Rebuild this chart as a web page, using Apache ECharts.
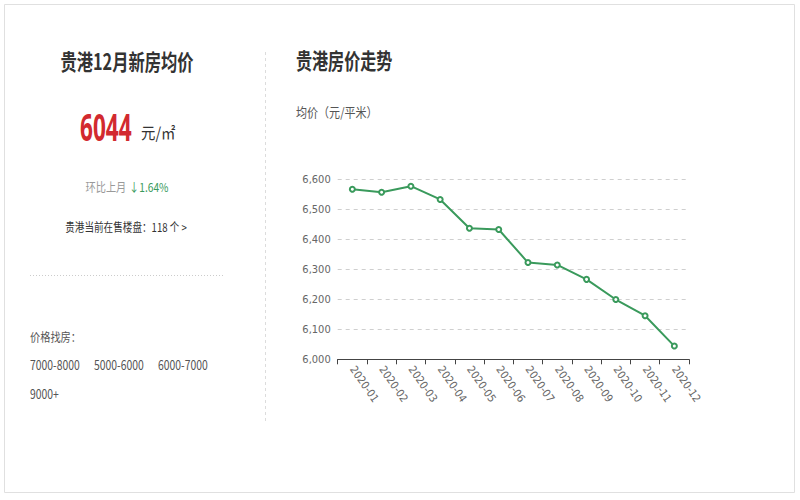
<!DOCTYPE html>
<html>
<head>
<meta charset="utf-8">
<script src="https://cdn.jsdelivr.net/npm/echarts@6/dist/echarts.min.js"></script>
<style>
html,body{margin:0;padding:0;background:#fff;}
#main{width:800px;height:500px;}
</style>
</head>
<body>
<div id="main"></div>
<script>
// ---- data ----
const months = ['2020-01','2020-02','2020-03','2020-04','2020-05','2020-06','2020-07','2020-08','2020-09','2020-10','2020-11','2020-12'];
const prices = [6566, 6556, 6576, 6532, 6436, 6432, 6322, 6314, 6266, 6199, 6145, 6044];
const yMin = 6000, yMax = 6600, yStep = 100;
const priceRanges = ['7000-8000', '5000-6000', '6000-7000', '9000+'];
const leftTitle = '贵港12月新房均价';
const rightTitle = '贵港房价走势';
const unitLabel = '均价（元/平米）';
const currentPrice = '6044';
const priceUnit = '元/㎡';
const changeLabel = '环比上月';
const changeValue = '↓1.64%';
const onSaleText = '贵港当前在售楼盘：118 个 >';
const findLabel = '价格找房：';

const CJK = '"Noto Sans CJK SC", "Noto Sans", sans-serif';
const NARROW = '"Liberation Sans Narrow", "DejaVu Sans Condensed", "Noto Sans CJK SC", sans-serif';
const green = '#3a9a5c';

const chart = echarts.init(document.getElementById('main'), null, {renderer: 'svg'});

function txt(x, y, text, size, color, opts) {
  opts = opts || {};
  return {
    type: 'text', x: x, y: y, scaleX: opts.scaleX || 1, z: 10,
    style: {
      text: text, fill: color,
      font: (opts.bold ? 'bold ' : '') + size + 'px ' + (opts.family || CJK),
      textAlign: opts.align || 'left', textVerticalAlign: 'middle'
    }
  };
}

const graphics = [
  {type: 'rect', shape: {x: 4.5, y: 4.5, width: 790, height: 488}, style: {fill: 'none', stroke: '#e0e0e0', lineWidth: 1}},
  {type: 'line', shape: {x1: 265.5, y1: 52, x2: 265.5, y2: 422}, style: {stroke: '#dcdcdc', lineWidth: 1, lineDash: [3, 3]}},
  {type: 'line', shape: {x1: 30, y1: 275.5, x2: 224, y2: 275.5}, style: {stroke: '#cccccc', lineWidth: 1, lineDash: [1, 2]}},
  txt(127, 61, leftTitle, 22, '#333', {bold: true, align: 'center', scaleX: 0.74}),
  txt(80, 127, currentPrice, 37, '#d22a2f', {bold: true, scaleX: 0.61, family: '"Noto Sans", sans-serif'}),
  txt(141, 132, priceUnit, 16, '#333', {scaleX: 0.9}),
  {
    type: 'text', x: 127, y: 187, scaleX: 0.85, z: 10,
    style: {
      text: '{a|' + changeLabel + '} {b|' + changeValue + '}',
      textAlign: 'center', textVerticalAlign: 'middle',
      rich: {
        a: {fill: '#999', fontSize: 12, fontFamily: CJK},
        b: {fill: green, fontSize: 12, fontFamily: CJK}
      }
    }
  },
  txt(126, 226, onSaleText, 12, '#333', {align: 'center', scaleX: 0.8}),
  txt(30, 337, findLabel, 12, '#555', {scaleX: 0.85}),
  txt(30, 364, priceRanges[0], 13, '#555', {scaleX: 0.8}),
  txt(94, 364, priceRanges[1], 13, '#555', {scaleX: 0.8}),
  txt(158, 364, priceRanges[2], 13, '#555', {scaleX: 0.8}),
  txt(30, 393, priceRanges[3], 13, '#555', {scaleX: 0.8}),
  txt(296, 60, rightTitle, 22, '#333', {bold: true, scaleX: 0.73}),
  txt(296, 111, unitLabel, 13, '#555', {scaleX: 0.85})
];

chart.setOption({
  animation: false,
  backgroundColor: '#fff',
  graphic: graphics,
  grid: {left: 337.7, right: 111, top: 179, bottom: 140.7, containLabel: false},
  xAxis: {
    type: 'category',
    data: months,
    boundaryGap: true,
    axisLine: {lineStyle: {color: '#444', width: 1}},
    axisTick: {show: true, length: 5, lineStyle: {color: '#444'}},
    axisLabel: {interval: 0, rotate: -55, margin: 8, color: '#666', fontSize: 11, fontFamily: NARROW}
  },
  yAxis: {
    type: 'value',
    min: yMin, max: yMax, interval: yStep,
    axisLine: {show: false},
    axisTick: {show: false},
    axisLabel: {color: '#666', fontSize: 11, margin: 7, fontFamily: NARROW,
      formatter: v => v.toLocaleString('en-US')},
    splitLine: {lineStyle: {color: '#cfcfcf', type: [4, 4]}}
  },
  series: [{
    type: 'line',
    data: prices,
    symbol: 'emptyCircle',
    symbolSize: 5,
    lineStyle: {color: green, width: 2},
    itemStyle: {color: green, borderColor: green, borderWidth: 1}
  }]
});
</script>
</body>
</html>
